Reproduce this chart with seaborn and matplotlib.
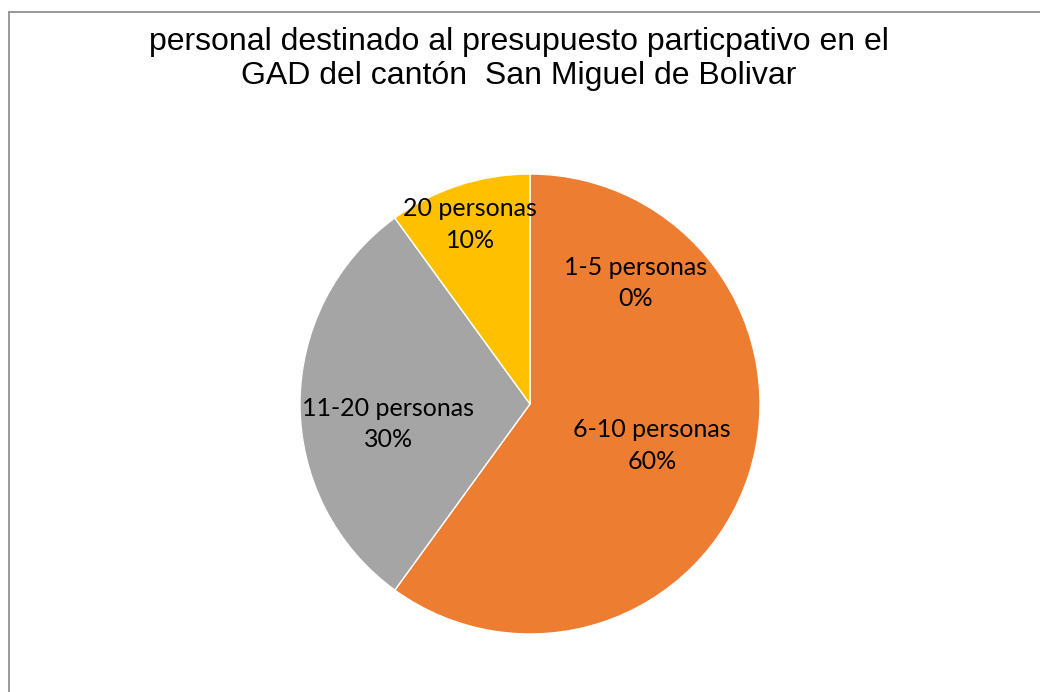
import matplotlib
matplotlib.use("Agg")
import matplotlib.pyplot as plt
import seaborn as sns
from matplotlib.lines import Line2D

categories = ["1-5 personas", "6-10 personas", "11-20 personas", "20 personas"]
values = [0, 60, 30, 10]
colors = ["#4472C4", "#ED7D31", "#A5A5A5", "#FFC000"]
title = "personal destinado al presupuesto particpativo en el\nGAD del cantón  San Miguel de Bolivar"

sns.set_theme(style="white")
plt.rcParams["font.family"] = ["Liberation Sans", "DejaVu Sans"]

W, H = 1040, 692
fig = plt.figure(figsize=(W / 100, H / 100), dpi=100)
fig.patch.set_facecolor("white")

cx, cy, r = 530, 404, 230
ax = fig.add_axes([(cx - r) / W, (H - cy - r) / H, 2 * r / W, 2 * r / H])
wedges, _ = ax.pie(values, colors=colors, startangle=90, counterclock=False,
                   radius=1, wedgeprops=dict(edgecolor="white", linewidth=1))
ax.set_xlim(-1, 1)
ax.set_ylim(-1, 1)
ax.set_aspect("equal")
ax.axis("off")

total = sum(values)
label_pos = [(0.457, 0.526), (0.53, -0.18), (-0.617, -0.087), (-0.26, 0.78)]
for cat, v, (x, y) in zip(categories, values, label_pos):
    ax.text(x, y, f"{cat}\n{round(100 * v / total)}%", ha="center", va="center",
            fontsize=18, family=["Lato", "DejaVu Sans"], linespacing=1.45,
            color="#000000")

fig.text(519 / W, 1 - 59 / H, title, ha="center", va="center", fontsize=23,
         linespacing=1.2, color="#000000")

fig.add_artist(Line2D([8.5 / W, 8.5 / W], [0, 1 - 11.5 / H], transform=fig.transFigure,
                      color="#888888", linewidth=1.2))
fig.add_artist(Line2D([8.5 / W, 1], [1 - 11.5 / H, 1 - 11.5 / H], transform=fig.transFigure,
                      color="#888888", linewidth=1.2))

fig.savefig("out.png", dpi=100, facecolor="white")
